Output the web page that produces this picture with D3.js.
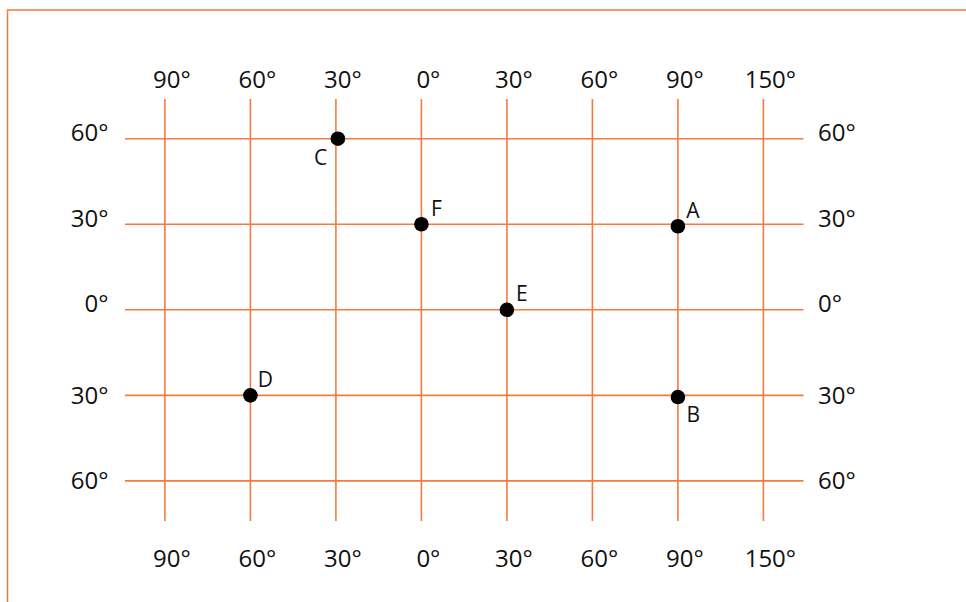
<!DOCTYPE html>
<html>
<head>
<meta charset="utf-8">
<script src="https://cdn.jsdelivr.net/npm/d3@7"></script>
<style>
  html, body { margin: 0; padding: 0; background: #fff; }
  svg { display: block; }
  text { font-family: "Open Sans", "Noto Sans", sans-serif; fill: #111; }
</style>
</head>
<body>
<script>
// ---- data ----
const lonValues = [-90, -60, -30, 0, 30, 60, 90, 120];
const lonLabels = ["90°", "60°", "30°", "0°", "30°", "60°", "90°", "150°"];
const latValues = [60, 30, 0, -30, -60];
const latLabels = ["60°", "30°", "0°", "30°", "60°"];

const pointNames = ["A", "B", "C", "D", "E", "F"];
const pointLon   = [90, 90, -29.3, -60, 30, 0];
const pointLat   = [29.3, -30.6, 60, -30, 0, 30];
const pointSide  = ["ne", "se", "sw", "ne", "ne", "ne"];

// ---- layout ----
const W = 966, H = 602;
const gridColor = "#f47a3e";

const svg = d3.select("body").append("svg")
  .attr("width", W).attr("height", H);

// frame
svg.append("path")
  .attr("d", `M7.5,${H + 5} V10 H${W + 5}`)
  .attr("fill", "none")
  .attr("stroke", gridColor)
  .attr("stroke-width", 1.5);

const x = d3.scaleLinear().domain([-90, 120]).range([164.9, 763.4]);
const y = d3.scaleLinear().domain([60, -60]).range([138.7, 480.9]);

const gridTop = 99, gridBottom = 521, gridLeft = 125, gridRight = 803.5;

// vertical grid lines
svg.append("g").selectAll("line").data(lonValues).join("line")
  .attr("x1", d => x(d)).attr("x2", d => x(d))
  .attr("y1", gridTop).attr("y2", gridBottom)
  .attr("stroke", gridColor).attr("stroke-width", 1.6);

// horizontal grid lines
svg.append("g").selectAll("line").data(latValues).join("line")
  .attr("x1", gridLeft).attr("x2", gridRight)
  .attr("y1", d => y(d)).attr("y2", d => y(d))
  .attr("stroke", gridColor).attr("stroke-width", 1.6);

const fs = 24;
// top & bottom longitude labels
[88.3, 567.3].forEach(by => {
  svg.append("g").selectAll("text").data(lonValues).join("text")
    .attr("x", d => x(d) + 7)
    .attr("y", by)
    .attr("text-anchor", "middle")
    .attr("font-size", fs)
    .text((d, i) => lonLabels[i]);
});

// latitude labels (left and right)
function latY(d) { return d >= 0 ? y(d) + 2.5 : y(d) + 8.5; }
svg.append("g").selectAll("text").data(latValues).join("text")
  .attr("x", 108.5)
  .attr("y", d => latY(d))
  .attr("text-anchor", "end")
  .attr("font-size", fs)
  .text((d, i) => latLabels[i]);
svg.append("g").selectAll("text").data(latValues).join("text")
  .attr("x", 818)
  .attr("y", d => latY(d))
  .attr("text-anchor", "start")
  .attr("font-size", fs)
  .text((d, i) => latLabels[i]);

// points
const pts = pointNames.map((n, i) => ({ name: n, lon: pointLon[i], lat: pointLat[i], side: pointSide[i] }));
svg.append("g").selectAll("circle").data(pts).join("circle")
  .attr("cx", d => x(d.lon)).attr("cy", d => y(d.lat))
  .attr("r", 7.3).attr("fill", "#000");

const off = {
  ne: [15, -16.5],
  se: [15.4, 16.6],
  sw: [-17.4, 18.7]
};
svg.append("g").selectAll("text").data(pts).join("text")
  .attr("x", d => x(d.lon) + off[d.side][0])
  .attr("y", d => y(d.lat) + off[d.side][1])
  .attr("text-anchor", "middle")
  .attr("dominant-baseline", "central")
  .attr("font-size", 21)
  .text(d => d.name);
</script>
</body>
</html>
